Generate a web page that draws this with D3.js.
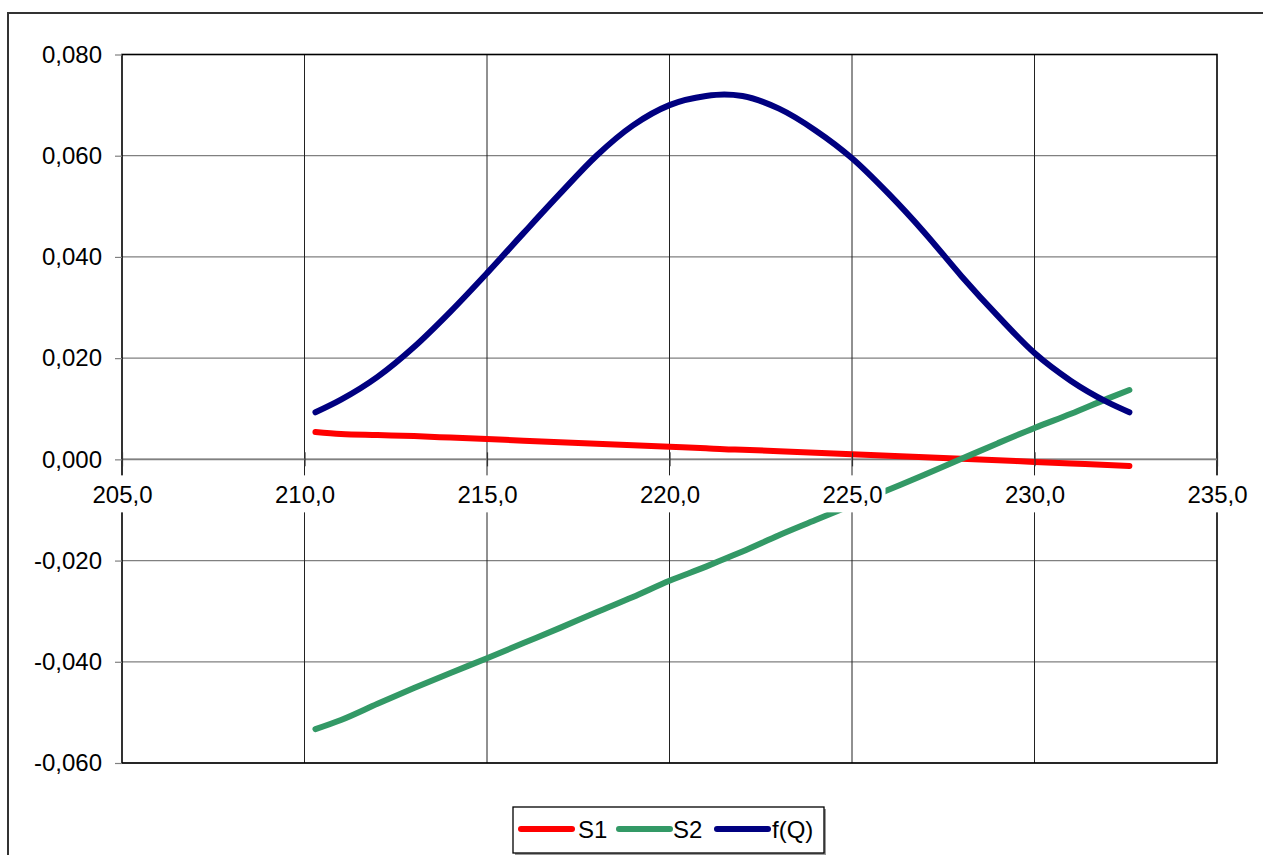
<!DOCTYPE html>
<html><head><meta charset="utf-8">
<script src="https://cdn.jsdelivr.net/npm/d3@7"></script>
<style>html,body{margin:0;padding:0;background:#fff;overflow:hidden}svg{display:block}</style>
</head><body>
<svg id="c" width="1263" height="855"></svg>
<script>
// ---- data ----
const qValues = [210.3, 211, 212, 213, 214, 215, 216, 217, 218, 219, 220, 221, 221.5, 222, 223, 224, 225, 226, 227, 228, 229, 230, 231, 232, 232.6];
const s1Values = [0.0054, 0.0050, 0.0048, 0.0046, 0.0043, 0.0040, 0.0037, 0.0034, 0.0031, 0.0028, 0.0025, 0.0022, 0.0020, 0.0019, 0.0016, 0.0013, 0.0010, 0.0007, 0.0004, 0.0001, -0.0002, -0.0005, -0.0008, -0.0011, -0.0013];
const s2Values = [-0.0533, -0.0515, -0.0483, -0.0452, -0.0422, -0.0393, -0.0363, -0.0333, -0.0302, -0.0272, -0.0240, -0.0212, -0.0197, -0.0182, -0.0150, -0.0120, -0.0090, -0.0060, -0.0030, 0.0001, 0.0032, 0.0062, 0.0090, 0.0120, 0.0137];
const fValues = [0.0093, 0.0118, 0.0163, 0.0222, 0.0292, 0.0368, 0.0447, 0.0525, 0.0600, 0.0660, 0.0700, 0.0718, 0.0721, 0.0718, 0.0693, 0.0650, 0.0595, 0.0525, 0.0447, 0.0362, 0.0283, 0.0210, 0.0155, 0.0113, 0.0093];
const xTicks = [205, 210, 215, 220, 225, 230, 235];
const yTicks = [-0.06, -0.04, -0.02, 0, 0.02, 0.04, 0.06, 0.08];
const seriesNames = ["S1", "S2", "f(Q)"];
const seriesColors = ["#FF0000", "#339966", "#000080"];

const loc = d3.formatLocale({decimal: ",", thousands: ".", grouping: [3], currency: ["", ""], minus: "-"});
const fy = loc.format(".3f"), fx = loc.format(".1f");
const FONT = "'Liberation Sans', Arial, sans-serif";

const svg = d3.select("#c");
const L = 122, R = 1217, T = 54.5, B = 763;
const x = d3.scaleLinear().domain([205, 235]).range([L, R]);
const y = d3.scaleLinear().domain([-0.06, 0.08]).range([B, T]);

// outer chart border
svg.append("rect").attr("x", 8).attr("y", 13).attr("width", 1400).attr("height", 1000)
  .attr("fill", "none").attr("stroke", "#333").attr("stroke-width", 2);

// gridlines
svg.append("g").selectAll("line").data(yTicks).join("line")
  .attr("x1", L).attr("x2", R).attr("y1", d => y(d)).attr("y2", d => y(d))
  .attr("stroke", "#808080").attr("stroke-width", 1.2);
svg.append("g").selectAll("line").data(xTicks.slice(1, -1)).join("line")
  .attr("x1", d => x(d)).attr("x2", d => x(d)).attr("y1", T).attr("y2", B)
  .attr("stroke", "#222").attr("stroke-width", 1);

// plot border
svg.append("rect").attr("x", L).attr("y", T).attr("width", R - L).attr("height", B - T)
  .attr("fill", "none").attr("stroke", "#000").attr("stroke-width", 1.6);

// y axis ticks + labels
const yAxis = d3.axisLeft(y).tickValues(yTicks).tickFormat(fy).tickSize(7).tickPadding(13);
const gy = svg.append("g").attr("transform", `translate(${L},0)`).call(yAxis);
gy.select(".domain").remove();
gy.selectAll(".tick line").attr("stroke", "#808080").attr("stroke-width", 1.2);
gy.selectAll("text").attr("font-family", FONT).attr("font-size", 24).attr("fill", "#000");

// x axis line at zero
svg.append("line").attr("x1", L).attr("x2", R).attr("y1", y(0)).attr("y2", y(0))
  .attr("stroke", "#808080").attr("stroke-width", 1.6);

// series
const series = [s1Values, s2Values, fValues];
const line = d3.line().curve(d3.curveMonotoneX).x((d, i) => x(qValues[i])).y(d => y(d));
svg.append("g").selectAll("path").data(series).join("path")
  .attr("d", d => line(d)).attr("fill", "none")
  .attr("stroke", (d, i) => seriesColors[i]).attr("stroke-width", 6)
  .attr("stroke-linejoin", "round").attr("stroke-linecap", "round");

// x axis ticks and labels (opaque label boxes)
const xAxis = d3.axisBottom(x).tickValues(xTicks).tickFormat(fx).tickSize(7).tickPadding(20);
const gx = svg.append("g").attr("transform", `translate(0,${y(0)})`).call(xAxis);
gx.select(".domain").remove();
gx.selectAll(".tick line").attr("y1", -7).attr("stroke", "#333").attr("stroke-width", 1.2);
gx.selectAll(".tick").insert("rect", "text")
  .attr("x", -33).attr("y", 16).attr("width", 66).attr("height", 37).attr("fill", "#fff");
gx.selectAll("text").attr("font-family", FONT).attr("font-size", 24).attr("fill", "#000")
  .attr("dy", "0.71em");

// legend
const lg = svg.append("g");
lg.append("rect").attr("x", 515).attr("y", 809).attr("width", 311).attr("height", 46).attr("fill", "#999");
lg.append("rect").attr("x", 513).attr("y", 807).attr("width", 311).attr("height", 46)
  .attr("fill", "#fff").attr("stroke", "#000").attr("stroke-width", 1.3);
const itemX = [521, 619, 717];
const textX = [578, 673, 772];
const items = lg.selectAll("g").data(seriesNames).join("g");
items.append("line").attr("x1", (d, i) => itemX[i]).attr("x2", (d, i) => itemX[i] + 51)
  .attr("y1", 829).attr("y2", 829).attr("stroke", (d, i) => seriesColors[i])
  .attr("stroke-width", 6).attr("stroke-linecap", "round");
items.append("text").attr("x", (d, i) => textX[i]).attr("y", 838)
  .attr("font-family", FONT).attr("font-size", 24).attr("fill", "#000").text(d => d);
</script>
</body></html>
